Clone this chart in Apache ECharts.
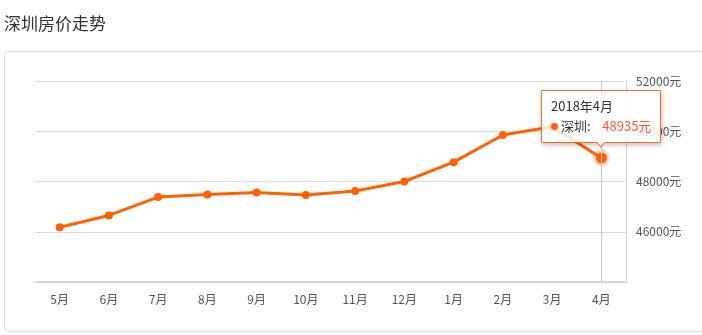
<!DOCTYPE html>
<html>
<head>
<meta charset="utf-8">
<script src="https://cdn.jsdelivr.net/npm/echarts@6/dist/echarts.min.js"></script>
<style>
html,body{margin:0;padding:0;background:#fff;}
#chart{width:702px;height:335px;}
</style>
</head>
<body>
<div id="chart"></div>
<script>
var titleText = '深圳房价走势';
var seriesName = '深圳';
var months = ['5月','6月','7月','8月','9月','10月','11月','12月','1月','2月','3月','4月'];
var fullDates = ['2017年5月','2017年6月','2017年7月','2017年8月','2017年9月','2017年10月','2017年11月','2017年12月','2018年1月','2018年2月','2018年3月','2018年4月'];
var prices = [46180, 46650, 47380, 47480, 47560, 47460, 47620, 48000, 48770, 49850, 50180, 48935];
var yMin = 44000, yMax = 52000, yStep = 2000;
var unit = '元';

var ORANGE = '#ff6000';
var FONT = '"Microsoft YaHei","Noto Sans CJK SC",sans-serif';
var lastIdx = prices.length - 1;

var seriesData = prices.map(function (v, i) {
  if (i === lastIdx) {
    return {value: v, symbolSize: 11, itemStyle: {color: ORANGE, borderColor: 'rgba(255,96,0,0.25)', borderWidth: 6}};
  }
  return v;
});

var chart = echarts.init(document.getElementById('chart'), null, {renderer: 'canvas'});
chart.setOption({
  animation: false,
  textStyle: {fontFamily: FONT},
  title: {
    text: titleText, left: -1, top: 10,
    textStyle: {fontSize: 17, fontWeight: 'normal', color: '#333', fontFamily: FONT}
  },
  graphic: [{
    type: 'rect', silent: true, z: -10,
    shape: {x: 4.5, y: 51.5, width: 760, height: 280, r: 4},
    style: {fill: '#fff', stroke: '#dcdcdc', lineWidth: 1}
  }],
  grid: {left: 35, right: 76, top: 81, bottom: 53},
  tooltip: {
    trigger: 'item',
    triggerOn: 'none',
    alwaysShowContent: true,
    position: 'top',
    backgroundColor: 'rgba(255,255,255,0.82)',
    borderColor: '#ff6a1a',
    borderWidth: 1,
    padding: [5, 9, 6, 9],
    extraCssText: 'box-shadow: 1px 2px 5px rgba(0,0,0,0.25); border-radius: 1px; margin-top: 3px;',
    textStyle: {fontSize: 13, color: '#333', fontFamily: FONT},
    formatter: function (p) {
      return '<div style="line-height:20px">' + fullDates[p.dataIndex] + '</div>' +
        '<div style="line-height:20px"><span style="display:inline-block;width:7px;height:7px;border-radius:50%;background:' + ORANGE + ';margin-right:3px;vertical-align:1px"></span>' +
        p.seriesName + ':&nbsp;&nbsp;&nbsp;&nbsp;<span style="color:#ff5a36">' + p.value + unit + '</span></div>';
    }
  },
  xAxis: {
    type: 'category',
    data: months,
    boundaryGap: true,
    axisLine: {lineStyle: {color: '#d6d6d6', width: 2}},
    axisTick: {alignWithLabel: true, length: 4, lineStyle: {color: '#ccc'}},
    axisLabel: {color: '#555', fontSize: 12, margin: 11, fontFamily: FONT},
    splitLine: {show: false},
    axisPointer: {
      show: true, value: lastIdx, status: 'show', type: 'line', triggerTooltip: false,
      lineStyle: {color: '#c8c8c8', width: 1, type: 'solid'},
      label: {show: false}, handle: {show: false}
    }
  },
  yAxis: {
    type: 'value',
    position: 'right',
    min: yMin, max: yMax, interval: yStep,
    axisLine: {show: true, lineStyle: {color: '#d6d6d6', width: 1}},
    axisTick: {show: false},
    axisLabel: {color: '#555', fontSize: 12, margin: 10, showMinLabel: false, fontFamily: FONT,
      formatter: function (v) { return v + unit; }},
    splitLine: {lineStyle: {color: '#dcdcdc', width: 1}}
  },
  series: [{
    name: seriesName,
    type: 'line',
    data: seriesData,
    symbol: 'circle',
    symbolSize: 8,
    lineStyle: {color: ORANGE, width: 3},
    itemStyle: {color: ORANGE},
    emphasis: {disabled: true}
  }]
});
setTimeout(function () {
  chart.dispatchAction({type: 'showTip', seriesIndex: 0, dataIndex: lastIdx});
}, 50);
</script>
</body>
</html>
